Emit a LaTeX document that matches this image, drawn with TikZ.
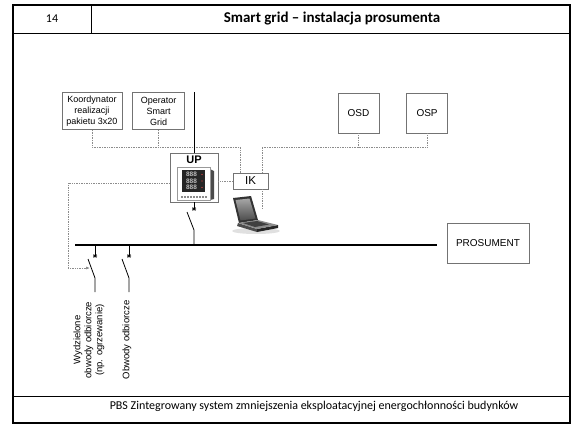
\documentclass[tikz,border=0pt]{standalone}
\usepackage{fontspec}
\newfontfamily\diagfont{Liberation Sans}
\newfontfamily\slidefont{Carlito}
\usetikzlibrary{positioning,arrows.meta}

\newcommand\gwiazdka[1]{%
  \draw[line width=0.6pt] (#1) +(-2,0) -- +(2,0) +(-1.4,-1.6) -- +(1.4,1.6) +(-1.4,1.6) -- +(1.4,-1.6);}

\begin{document}
\begin{tikzpicture}[x=1pt,y=-1pt,
  blok/.style={draw=black!55, line width=0.6pt, fill=white, align=center, inner sep=1pt,
    font=\diagfont\fontsize{9}{11}\selectfont},
  duzy/.style={blok, font=\diagfont\fontsize{10}{12}\selectfont},
  link/.style={densely dotted, black!45, line width=0.7pt},
  wire/.style={black, line width=0.8pt},
  szyna/.style={black, line width=1.7pt},
  opis/.style={rotate=90, align=center, inner sep=0, font=\diagfont\fontsize{9.5}{11}\selectfont}]
\useasboundingbox (0,0) rectangle (573,426);

\draw[line width=1.4pt] (13,5) rectangle (570,423);
\draw[line width=0.7pt] (13,33) -- (570,33);
\draw[line width=0.7pt] (91,5) -- (91,33);
\draw[line width=0.7pt] (13,396) -- (570,396);
\node[font=\slidefont\fontsize{12}{14}\selectfont] (nr) at (52,19) {14};
\node[font=\slidefont\bfseries\fontsize{15}{17}\selectfont] (tytul) at (332,19) {Smart grid – instalacja prosumenta};
\node[font=\slidefont\fontsize{12}{14}\selectfont] (stopka) at (314,406)
  {PBS Zintegrowany system zmniejszenia eksploatacyjnej energochłonności budynków};

\node[blok, minimum width=60pt, minimum height=37pt] (koord) at (92,111) {Koordynator\\realizacji\\pakietu 3x20};
\node[blok, minimum width=52pt, minimum height=37pt, right=10pt of koord] (oper) {Operator\\Smart\\Grid};
\node[duzy, minimum width=41pt, minimum height=40pt] (osd) at (358.5,113) {OSD};
\node[duzy, minimum width=41pt, minimum height=40pt, right=27pt of osd] (osp) {OSP};
\node[blok, minimum width=48pt, minimum height=49pt] (up) at (194,177.5) {};
\node[font=\diagfont\bfseries\fontsize{11}{12}\selectfont, inner sep=0] (uplab) at (194,160) {UP};
\node[blok, font=\diagfont\fontsize{11.5}{12}\selectfont, minimum width=35pt, minimum height=16pt] (ik) at (250.5,181) {IK};
\node[duzy, minimum width=82pt, minimum height=40pt] (pros) at (488,243) {PROSUMENT};

% miernik w UP
\fill[black!70] (210,169) -- (214,171) -- (214,199) -- (210,200) -- cycle;
\draw[black!40, fill=white] (177,167) rectangle (210,200);
\fill[black!85] (182,170) rectangle (205,192);
\foreach \r in {174.5,181,187.5} {
  \node[inner sep=0, text=black!25, font=\diagfont\bfseries\fontsize{6.5}{6.5}\selectfont] at (191.5,\r) {888};
  \fill[red!70] (202,\r) circle (0.6);
}
\foreach \c in {181,184,...,205} \fill[black!45] (\c,196) rectangle (\c+1.6,197.6);

% laptop
\fill[black!12] (256,231) ellipse (24 and 3);
\fill[black!80] (233,198) -- (251,196) -- (258,220) -- (239,223) -- cycle;
\shade[top color=black!35, bottom color=black!70] (235.5,200) -- (249.5,198.5) -- (255.5,218.5) -- (240.5,220.5) -- cycle;
\fill[black!70] (238,223) -- (257,229) -- (257,232) -- (237,226) -- cycle;
\fill[black!85] (257,229) -- (278,225) -- (278,228) -- (257,232) -- cycle;
\fill[black!45] (238,223) -- (258,220) -- (278,225) -- (257,229) -- cycle;
\fill[black!75] (243,223) -- (257,221) -- (269,224.5) -- (255,227) -- cycle;

% linie danych
\coordinate (kx) at (koord.south |- 0,147);
\coordinate (ox) at (oper.south |- 0,147);
\coordinate (ikl) at ([xshift=-10.5pt]ik.north);
\coordinate (ikr) at ([xshift=11.5pt]ik.north);
\coordinate (lap) at ([yshift=-36pt]ikr);
\draw[link] (koord.south) -- (kx) -| (ikl);
\draw[link] (oper.south) -- (ox);
\draw[link] (ikr) |- (osp.south |- 0,147) -- (osp.south);
\draw[link] (osd.south) -- (osd.south |- 0,147);
\draw[link] (ik.west) -- (up.east |- ik.west);
\draw[link] (ikr |- ik.south) -- (lap);
\coordinate (celw) at (90,268);
\draw[link, -{Latex[length=4pt,width=3pt]}] (up.west |- 0,183) -| (68,268) -- (celw);

% tor mocy
\coordinate (zas) at (194,92);
\draw[wire] (zas) -- (up.north);
\coordinate (szL) at (75,245);
\coordinate (szP) at ([xshift=-10pt]pros.west |- szL);
\draw[szyna] (szL) -- (szP);

\coordinate (u1) at (194,209);
\coordinate (u2) at (187,212);
\coordinate (u3) at (194,230);
\draw[wire] (up.south) -- (u1);
\gwiazdka{u1}
\draw[wire] (u2) -- (u3) -- (u3 |- szL);

\foreach \x/\n in {95/a,129/b} {
  \coordinate (\n0) at (\x,245);
  \coordinate (\n1) at (\x,256);
  \coordinate (\n2) at (\x-7,259);
  \coordinate (\n3) at (\x,278);
  \coordinate (\n4) at (\x,292);
  \draw[wire] (\n0) -- (\n1);
  \gwiazdka{\n1}
  \draw[wire] (\n2) -- (\n3) -- (\n4);
}

\node[opis] (odbW) at (89,340) {Wydzielone\\obwody odbiorcze\\(np. ogrzewanie)};
\node[opis] (odbO) at (127,340) {Obwody odbiorcze};
\end{tikzpicture}
\end{document}
